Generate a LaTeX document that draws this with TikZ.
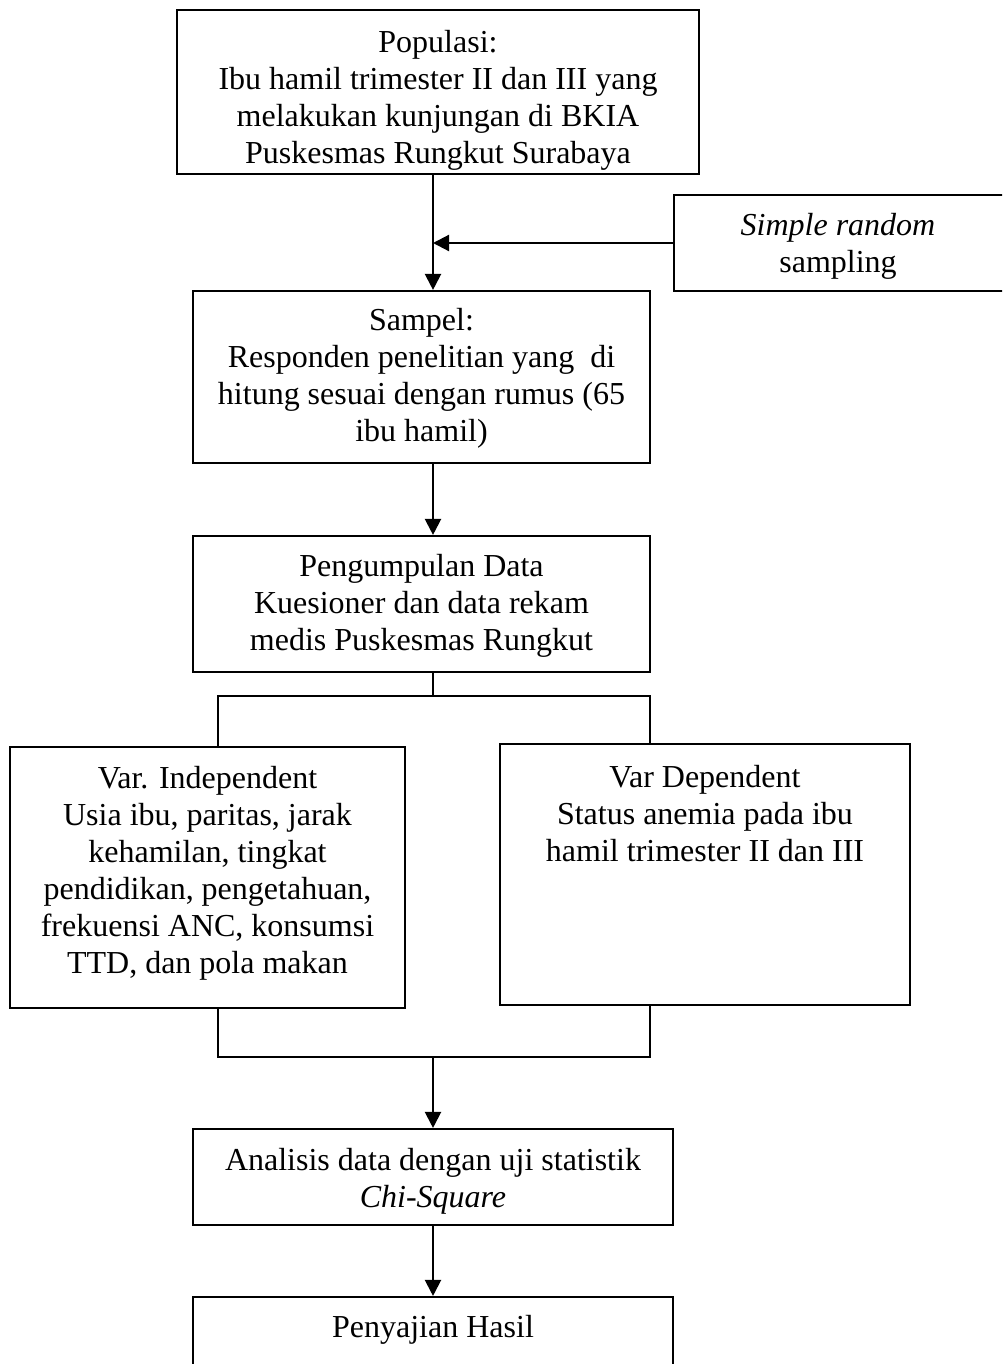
\documentclass[tikz,border=0pt]{standalone}
\usepackage{fontspec}
\setmainfont{Liberation Serif}
\usetikzlibrary{arrows.meta}
\begin{document}
\begin{tikzpicture}[x=0.375pt,y=-0.375pt,
  box/.style 2 args={draw, line width=0.8pt, inner sep=0pt,
    minimum width=#1*0.375pt, minimum height=#2*0.375pt},
  txt/.style={align=center, inner sep=0pt, font=\fontsize{12}{13.875}\selectfont},
  conn/.style={line width=0.8pt},
  arr/.style={conn, -{Triangle[length=6pt,width=6pt]}}]
\useasboundingbox (0,0) rectangle (1002,1364);
\clip (0,0) rectangle (1002,1364);

% boxes
\node[box={522}{164}] (pop) at (438,92) {};
\node[box={332}{96}] (srs) at (840,243) {};
\node[box={457}{172}] (samp) at (421.5,377) {};
\node[box={457}{136}] (peng) at (421.5,604) {};
\node[box={395}{261}] (indep) at (207.5,877.5) {};
\node[box={410}{261}] (dep) at (705,874.5) {};
\node[box={480}{96}] (anal) at (433,1177) {};
\node[box={480}{120}] (hasil) at (433,1357) {};

% texts
\node[txt] (popt) at (438,100) {Populasi:\\Ibu hamil trimester II dan III yang\\melakukan kunjungan di BKIA\\Puskesmas Rungkut Surabaya};
\node[txt] (srst) at (838,246.5) {\textit{Simple random}\\sampling};
\node[txt] (sampt) at (421.5,378.5) {Sampel:\\Responden penelitian yang\ \ di\\hitung sesuai dengan rumus (65\\ibu hamil)};
\node[txt] (pengt) at (421.5,606) {Pengumpulan Data\\Kuesioner dan data rekam\\medis Puskesmas Rungkut};
\node[txt] (indept) at (207.5,873) {Var. Independent\\Usia ibu, paritas, jarak\\kehamilan, tingkat\\pendidikan, pengetahuan,\\frekuensi ANC, konsumsi\\TTD, dan pola makan};
\node[txt] (dept) at (705,814) {Var Dependent\\Status anemia pada ibu\\hamil trimester II dan III};
\node[txt] (analt) at (433,1181.5) {Analisis data dengan uji statistik\\\textit{Chi-Square}};
\node[txt] (hasilt) at (433,1329.5) {Penyajian Hasil};

% helper coordinates
\coordinate (ax) at (433,0);
\coordinate (lx) at (218,0);
\coordinate (rx) at (650,0);
\coordinate (t1) at (433,696);
\coordinate (t2) at (433,1057);

% connectors
\draw[arr] (pop.south -| ax) -- (samp.north -| ax);
\draw[arr] (srs.west) -- (srs.west -| ax);
\draw[arr] (samp.south -| ax) -- (peng.north -| ax);
\draw[conn] (peng.south -| ax) -- (t1);
\draw[conn] (indep.north -| lx) |- (t1) -| (dep.north -| rx);
\draw[conn] (indep.south -| lx) |- (t2) -| (dep.south -| rx);
\draw[arr] (t2) -- (anal.north -| ax);
\draw[arr] (anal.south -| ax) -- (hasil.north -| ax);
\end{tikzpicture}
\end{document}
